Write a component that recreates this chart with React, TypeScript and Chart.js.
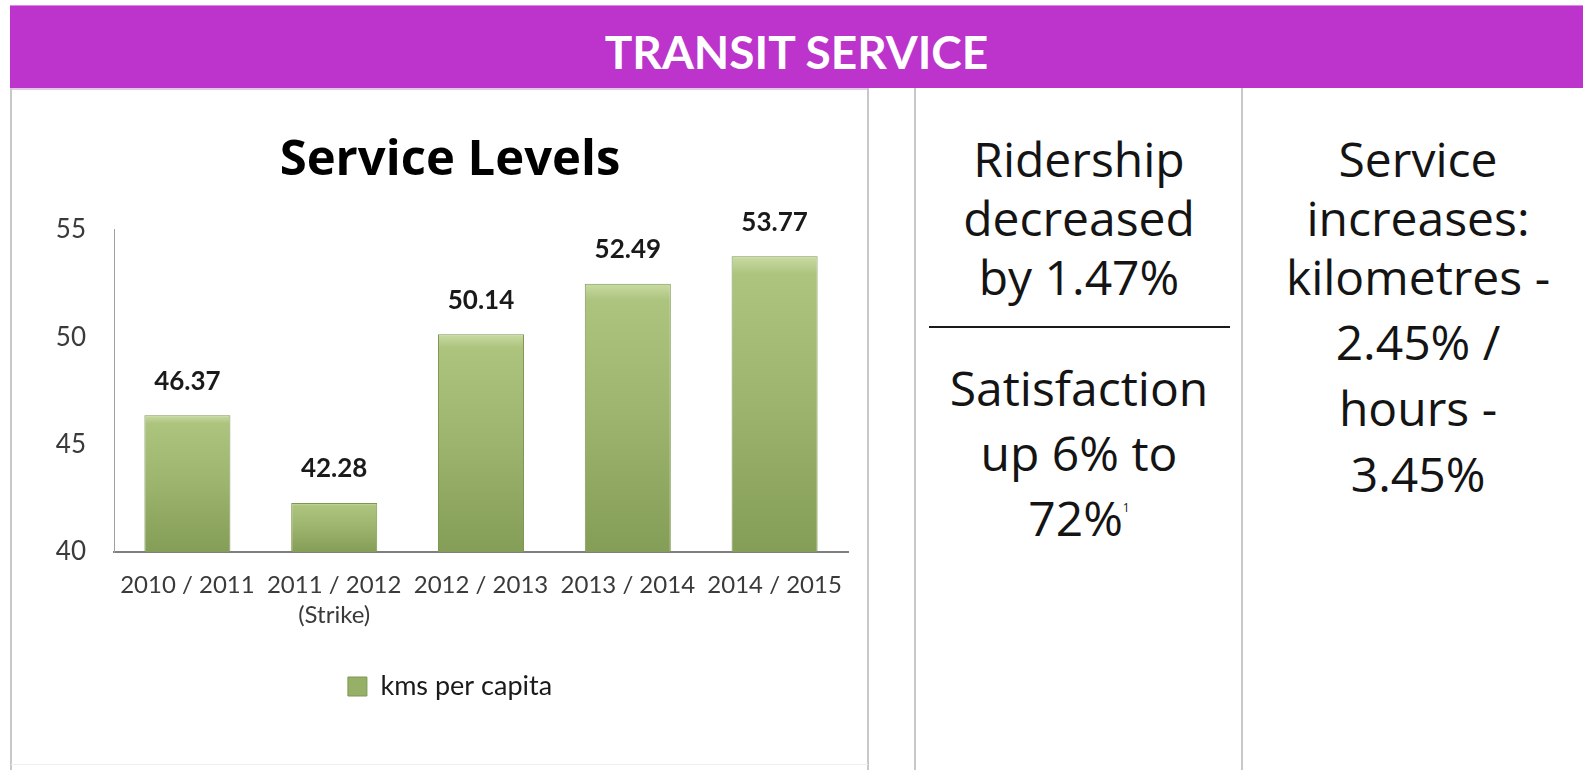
import React, { useEffect, useRef } from 'react';
import { Chart, registerables } from 'chart.js';

Chart.register(...registerables);

// ---- data ----
const categories: string[][] = [
  ['2010 / 2011'],
  ['2011 / 2012', '(Strike)'],
  ['2012 / 2013'],
  ['2013 / 2014'],
  ['2014 / 2015'],
];
const kmsPerCapita: number[] = [46.37, 42.28, 50.14, 52.49, 53.77];
const yMin = 40;
const yMax = 55;
const yStep = 5;
const seriesLabel = 'kms per capita';
const chartTitle = 'Service Levels';
const bannerTitle = 'TRANSIT SERVICE';
const ridershipLines: string[] = ['Ridership', 'decreased', 'by 1.47%'];
const satisfactionLines: string[] = ['Satisfaction', 'up 6% to', '72%'];
const satisfactionNote = '1';
const serviceLines: string[] = ['Service', 'increases:', 'kilometres -', '2.45% /', 'hours -', '3.45%'];

// ---- layout (page px) ----
const midCx = 1079;
const rightCx = 1418;
const midYs = [159, 218, 277];
const satYs = [388, 453, 518];
const rightYs = [159, 218, 277, 342, 408, 474];

const barFill = (c: any) => {
  const chart = c.chart;
  const area = chart.chartArea;
  const y = chart.scales && chart.scales.y;
  if (!area || !y || typeof c.raw !== 'number') return '#98b26a';
  const top = y.getPixelForValue(c.raw);
  const bottom = y.getPixelForValue(y.min);
  const g = chart.ctx.createLinearGradient(0, top, 0, bottom);
  g.addColorStop(0, '#c9dba3');
  g.addColorStop(0.06, '#adc47f');
  g.addColorStop(0.5, '#9cb46d');
  g.addColorStop(1, '#849d57');
  return g;
};

const valueLabels = {
  id: 'valueLabels',
  afterDatasetsDraw(chart: any) {
    const ctx = chart.ctx;
    const meta = chart.getDatasetMeta(0);
    ctx.save();
    ctx.font = 'bold 26px Lato';
    ctx.fillStyle = '#1a1a1a';
    ctx.textAlign = 'center';
    ctx.textBaseline = 'middle';
    meta.data.forEach((el: any, i: number) => {
      ctx.fillText(kmsPerCapita[i].toFixed(2), el.x, el.y - 34);
    });
    ctx.restore();
  },
};

function ServiceChart() {
  const ref = useRef<HTMLCanvasElement>(null);
  useEffect(() => {
    if (!ref.current) return;
    const chart = new Chart(ref.current, {
      type: 'bar',
      data: {
        labels: categories,
        datasets: [
          {
            label: seriesLabel,
            data: kmsPerCapita,
            backgroundColor: barFill,
            borderColor: '#7e9752',
            borderWidth: 1,
            barPercentage: 0.586,
            categoryPercentage: 1,
          },
        ],
      },
      options: {
        animation: false,
        responsive: false,
        devicePixelRatio: 1,
        layout: { padding: { left: 41, right: 18, top: 0, bottom: 55 } },
        scales: {
          x: {
            grid: { display: false, tickLength: 0 },
            border: { display: true, color: '#7f7f7f', width: 2 },
            ticks: {
              font: { family: 'Lato', size: 24, lineHeight: 1.25 },
              color: '#3a3a3a',
              padding: 18,
              maxRotation: 0,
              autoSkip: false,
            },
            afterFit: (s: any) => {
              s.height = 111;
            },
          },
          y: {
            min: yMin,
            max: yMax,
            grid: { display: false, tickLength: 0 },
            border: { display: true, color: '#a0a0a0', width: 1 },
            ticks: {
              stepSize: yStep,
              font: { family: 'Lato', size: 26 },
              color: '#3a3a3a',
              padding: 28,
            },
            afterFit: (s: any) => {
              s.width = 62;
            },
          },
        },
        plugins: {
          title: {
            display: true,
            text: chartTitle,
            color: '#000',
            font: { family: 'Open Sans', size: 49, weight: 'bold', lineHeight: 1.2 },
            padding: { top: 42, bottom: 39 },
          },
          legend: {
            display: true,
            position: 'bottom',
            labels: {
              font: { family: 'Lato', size: 27 },
              color: '#1a1a1a',
              boxWidth: 19,
              boxHeight: 19,
              generateLabels: () => [
                {
                  text: seriesLabel,
                  fillStyle: '#96b068',
                  strokeStyle: '#7e9752',
                  lineWidth: 1,
                  fontColor: '#1a1a1a',
                  hidden: false,
                  datasetIndex: 0,
                },
              ],
            },
          },
          tooltip: { enabled: false },
        },
      },
      plugins: [valueLabels],
    } as any);
    return () => chart.destroy();
  }, []);
  return (
    <canvas
      ref={ref}
      width={855}
      height={675}
      style={{ position: 'absolute', left: 11, top: 90, width: 855, height: 675 }}
    />
  );
}

const lineStyle = (cx: number, cy: number): React.CSSProperties => ({
  position: 'absolute',
  left: cx - 200,
  width: 400,
  top: cy - 30,
  height: 60,
  lineHeight: '60px',
  textAlign: 'center',
  fontFamily: 'Open Sans',
  fontSize: 48,
  color: '#141414',
  whiteSpace: 'nowrap',
});

const vLine = (x: number): React.CSSProperties => ({
  position: 'absolute',
  left: x - 1,
  top: 88,
  width: 2,
  height: 682,
  background: '#c8c8c8',
});

export default function App() {
  useEffect(() => {
    document.body.style.margin = '0';
  }, []);
  return (
    <div
      style={{
        position: 'absolute',
        left: 0,
        top: 0,
        width: 1583,
        height: 770,
        background: '#ffffff',
        overflow: 'hidden',
      }}
    >
      <div
        style={{
          position: 'absolute',
          left: 10,
          top: 5,
          width: 1573,
          height: 83,
          background: '#bc34cb',
          borderTop: '1px solid #d98ae2',
          boxSizing: 'border-box',
          display: 'flex',
          alignItems: 'center',
          justifyContent: 'center',
          paddingTop: 8,
          color: '#ffffff',
          fontFamily: 'Lato',
          fontWeight: 'bold',
          fontSize: 46,
          letterSpacing: 0,
        }}
      >
        {bannerTitle}
      </div>
      <div style={{ position: 'absolute', left: 10, top: 88, width: 858, height: 2, background: '#e3c8e7' }} />
      <div style={vLine(11)} />
      <div style={vLine(868)} />
      <div style={vLine(915)} />
      <div style={vLine(1242)} />
      <div style={{ position: 'absolute', left: 11, top: 764, width: 857, height: 1, background: '#eeeeee' }} />

      <ServiceChart />

      {ridershipLines.map((t, i) => (
        <div key={'r' + i} style={lineStyle(midCx, midYs[i])}>
          {t}
        </div>
      ))}
      <div style={{ position: 'absolute', left: 929, top: 326, width: 301, height: 1.5, background: '#1a1a1a' }} />
      {satisfactionLines.map((t, i) => (
        <div key={'s' + i} style={lineStyle(midCx, satYs[i])}>
          {t}
          {i === satisfactionLines.length - 1 ? (
            <span style={{ fontSize: 12, verticalAlign: 'top', lineHeight: '40px' }}>{satisfactionNote}</span>
          ) : null}
        </div>
      ))}
      {serviceLines.map((t, i) => (
        <div key={'v' + i} style={lineStyle(rightCx, rightYs[i])}>
          {t}
        </div>
      ))}
    </div>
  );
}
